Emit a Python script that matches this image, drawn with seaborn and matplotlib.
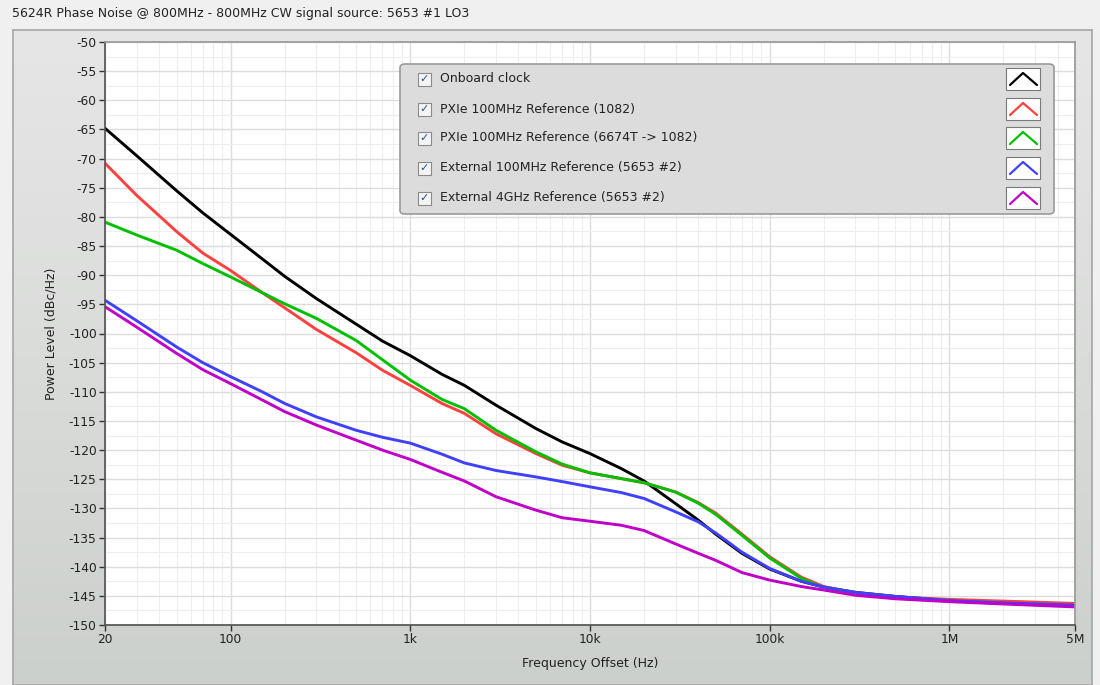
import numpy as np
import pandas as pd
import matplotlib.pyplot as plt
import seaborn as sns
from matplotlib.patches import FancyBboxPatch, Rectangle
from matplotlib.lines import Line2D
from matplotlib.colors import LinearSegmentedColormap
from matplotlib.ticker import LogLocator, NullFormatter, MultipleLocator

# 频率偏移点 (Hz)
freq = [20, 30, 50, 70, 100, 150, 200, 300, 500, 700,
        1e3, 1.5e3, 2e3, 3e3, 5e3, 7e3, 1e4, 1.5e4, 2e4, 3e4,
        4e4, 5e4, 7e4, 1e5, 1.5e5, 2e5, 3e5, 5e5, 1e6, 2e6, 5e6]

# 各参考源的相位噪声 (dBc/Hz)
onboard = [-64.8, -69.5, -75.5, -79.3, -83.0, -87.2, -90.2, -94.0, -98.4, -101.3,
           -103.8, -107.0, -108.9, -112.3, -116.3, -118.6, -120.6, -123.2, -125.3, -129.2,
           -132.0, -134.4, -137.7, -140.4, -142.5, -143.5, -144.4, -145.1, -145.8, -146.1, -146.5]
pxie_1082 = [-70.8, -76.3, -82.5, -86.2, -89.2, -93.0, -95.6, -99.3, -103.3, -106.3,
             -108.9, -112.0, -113.7, -117.2, -120.6, -122.6, -123.9, -124.9, -125.6, -127.2,
             -129.0, -130.8, -134.4, -138.3, -141.8, -143.4, -144.5, -145.2, -145.6, -145.9, -146.3]
pxie_6674t = [-80.9, -83.1, -85.7, -88.0, -90.3, -93.0, -94.9, -97.4, -101.2, -104.5,
              -108.0, -111.3, -112.9, -116.6, -120.3, -122.4, -123.9, -124.9, -125.6, -127.2,
              -129.1, -131.0, -134.6, -138.5, -142.0, -143.6, -144.7, -145.4, -145.9, -146.3, -146.7]
ext_100m = [-94.3, -97.8, -102.3, -105.0, -107.4, -110.0, -112.0, -114.3, -116.6, -117.8,
            -118.8, -120.7, -122.2, -123.5, -124.6, -125.4, -126.3, -127.3, -128.3, -130.6,
            -132.3, -134.2, -137.5, -140.3, -142.5, -143.5, -144.4, -145.1, -145.8, -146.2, -146.6]
ext_4g = [-95.4, -98.9, -103.4, -106.2, -108.6, -111.4, -113.4, -115.7, -118.3, -120.0,
          -121.6, -123.8, -125.3, -128.0, -130.3, -131.6, -132.2, -132.9, -133.8, -136.1,
          -137.7, -138.9, -141.0, -142.3, -143.4, -144.0, -144.9, -145.5, -146.0, -146.4, -146.9]

labels = ['Onboard clock',
          'PXIe 100MHz Reference (1082)',
          'PXIe 100MHz Reference (6674T -> 1082)',
          'External 100MHz Reference (5653 #2)',
          'External 4GHz Reference (5653 #2)']
colors = ['#000000', '#ff4040', '#00c000', '#4040ff', '#c000c8']
series = [onboard, pxie_1082, pxie_6674t, ext_100m, ext_4g]

xtick_vals = [20, 100, 1e3, 1e4, 1e5, 1e6, 5e6]
xtick_labels = ['20', '100', '1k', '10k', '100k', '1M', '5M']

title = '5624R Phase Noise @ 800MHz - 800MHz CW signal source: 5653 #1 LO3'

df = pd.concat([pd.DataFrame({'freq': freq, 'level': s, 'series': lab})
                for s, lab in zip(series, labels)], ignore_index=True)

W, H = 1100, 685


def fx(px):
    return px / W


def fy(py):
    return 1 - py / H


sns.set_theme(style='white')
plt.rcParams['font.family'] = ['DejaVu Sans']

fig = plt.figure(figsize=(11, 6.85), dpi=100)
fig.patch.set_facecolor('#f0f0f0')

# 灰色面板背景 (渐变)
bg = fig.add_axes([fx(13), 0, fx(1092) - fx(13), fy(30)])
grad = np.linspace(0, 1, 256).reshape(-1, 1)
cmap = LinearSegmentedColormap.from_list('panel', ['#e6e6e6', '#dadcda', '#ccd0cc'])
bg.imshow(grad, aspect='auto', cmap=cmap, extent=[0, 1, 0, 1])
bg.set_xticks([])
bg.set_yticks([])
for sp in bg.spines.values():
    sp.set_color('#a8a8a8')

fig.text(fx(12), fy(13), title, fontsize=9, va='center', ha='left', color='#222222')

# 主图
ax = fig.add_axes([fx(105), fy(625), fx(1075) - fx(105), fy(42) - fy(625)])
ax.set_facecolor('white')
sns.lineplot(data=df, x='freq', y='level', hue='series', hue_order=labels,
             palette=colors, estimator=None, linewidth=2.1, legend=False, ax=ax)
ax.set_xscale('log')
ax.set_xlim(20, 5e6)
ax.set_ylim(-150, -50)

ax.set_xticks(xtick_vals, xtick_labels)
ax.xaxis.set_minor_locator(LogLocator(base=10, subs=np.arange(2, 10)))
ax.xaxis.set_minor_formatter(NullFormatter())
yt = np.arange(-150, -45, 5)
ax.set_yticks(yt, [str(v) for v in yt])
ax.yaxis.set_minor_locator(MultipleLocator(2.5))
ax.grid(which='major', color='#dddddd', lw=1)
ax.grid(which='minor', color='#eeeeee', lw=0.8)
ax.set_axisbelow(True)
ax.tick_params(which='minor', length=0)
ax.tick_params(which='major', direction='out', length=4, width=1, color='#333333',
               labelsize=8.8, pad=2, left=True, bottom=True, labelcolor='#222222')
for side in ['left', 'bottom']:
    ax.spines[side].set_color('#555555')
for side in ['top', 'right']:
    ax.spines[side].set_color('#999999')

ax.set_xlabel('Frequency Offset (Hz)', fontsize=9, color='#222222', labelpad=8)
ax.set_ylabel('Power Level (dBc/Hz)', fontsize=9, color='#222222', labelpad=8)

# 图例 (复选框样式)
leg_box = FancyBboxPatch((fx(400), fy(214)), fx(1054) - fx(400), fy(64) - fy(214),
                         boxstyle='round,pad=0,rounding_size=0.005',
                         transform=fig.transFigure, facecolor='#dcdcdc',
                         edgecolor='#9a9a9a', lw=1.2, zorder=5)
fig.add_artist(leg_box)
rows = [79, 109, 138, 168, 198]
for row, lab, col in zip(rows, labels, colors):
    cb = Rectangle((fx(418), fy(row + 7)), fx(13), fy(row - 6) - fy(row + 7),
                   transform=fig.transFigure, facecolor='#f4f4f4',
                   edgecolor='#8a8a8a', lw=0.8, zorder=6)
    fig.add_artist(cb)
    fig.text(fx(424.5), fy(row), '\u2713', fontsize=8, color='#2a4d9c',
             ha='center', va='center', zorder=7)
    fig.text(fx(440), fy(row), lab, fontsize=9, color='#222222',
             ha='left', va='center', zorder=7)
    sw = Rectangle((fx(1006), fy(row + 11)), fx(34), fy(row - 11) - fy(row + 11),
                   transform=fig.transFigure, facecolor='white',
                   edgecolor='#7a7a7a', lw=0.8, zorder=6)
    fig.add_artist(sw)
    fig.add_artist(Line2D([fx(1010), fx(1023), fx(1037)], [fy(row + 6), fy(row - 6), fy(row + 6)],
                          transform=fig.transFigure, color=col, lw=1.6, zorder=7))

fig.savefig('out.png', dpi=100, facecolor=fig.get_facecolor())
